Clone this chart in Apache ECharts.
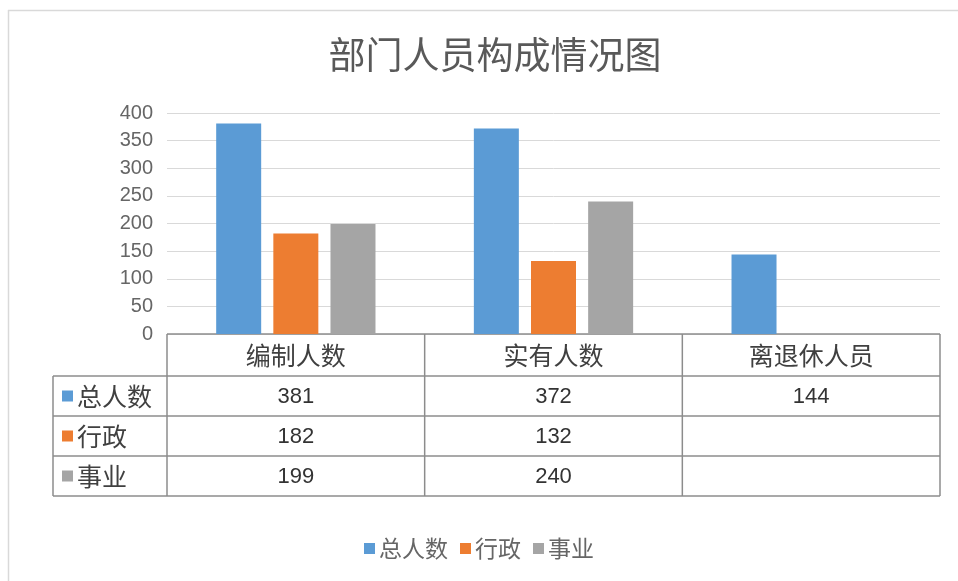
<!DOCTYPE html>
<html>
<head>
<meta charset="utf-8">
<script src="https://cdn.jsdelivr.net/npm/echarts@6/dist/echarts.min.js"></script>
<style>
html,body{margin:0;padding:0;background:#fff;}
#c{width:958px;height:581px;}
</style>
</head>
<body>
<div id="c"></div>
<script>
const titleText = '部门人员构成情况图';
const categories = ['编制人数', '实有人数', '离退休人员'];
const seriesNames = ['总人数', '行政', '事业'];
const totalValues = [381, 372, 144];
const adminValues = [182, 132, null];
const instValues = [199, 240, null];
const yTicks = [0, 50, 100, 150, 200, 250, 300, 350, 400];
const colors = ['#5B9BD5', '#ED7D31', '#A5A5A5'];

const seriesValues = [totalValues, adminValues, instValues];
const FONT = '"Noto Sans CJK SC", "Noto Sans", sans-serif';
const NUM_FONT = '"Liberation Sans", "Noto Sans", sans-serif';
const TEXT_COLOR = '#595959';

const chart = echarts.init(document.getElementById('c'), null, {renderer: 'canvas'});

const option = {
  backgroundColor: '#fff',
  animation: false,
  title: {
    text: titleText,
    left: 490,
    textAlign: 'center',
    top: 31,
    textStyle: {fontFamily: FONT, fontSize: 37, fontWeight: 'normal', color: TEXT_COLOR}
  },
  legend: {
    data: seriesNames,
    left: 'center',
    top: 532,
    itemWidth: 11,
    itemHeight: 11,
    itemGap: 12,
    icon: 'rect',
    textStyle: {fontFamily: FONT, fontSize: 23, color: '#666666', padding: [0, 0, 0, -1]}
  },
  grid: {left: 167, right: 18, top: 113, bottom: 247, containLabel: false},
  xAxis: {
    type: 'category',
    data: categories,
    axisLine: {show: false},
    axisTick: {show: false},
    axisLabel: {show: false},
    splitLine: {show: false}
  },
  yAxis: {
    type: 'value',
    min: yTicks[0],
    max: yTicks[yTicks.length - 1],
    interval: yTicks[1] - yTicks[0],
    axisLine: {show: false},
    axisTick: {show: false},
    axisLabel: {fontFamily: NUM_FONT, fontSize: 20, color: '#666666', margin: 14},
    splitLine: {lineStyle: {color: '#D9D9D9', width: 1}}
  },
  series: seriesNames.map((name, i) => ({
    name: name,
    type: 'bar',
    data: seriesValues[i],
    barWidth: 45,
    barGap: '27%',
    itemStyle: {color: colors[i]}
  }))
};
chart.setOption(option);

function buildTable() {
  const c0 = chart.convertToPixel({xAxisIndex: 0}, categories[0]);
  const c1 = chart.convertToPixel({xAxisIndex: 0}, categories[1]);
  const band = c1 - c0;
  const gridLeft = c0 - band / 2;
  const gridRight = gridLeft + band * categories.length;
  const yTop = chart.convertToPixel({yAxisIndex: 0}, 0);
  const headerH = 42;
  const rowH = 40;
  const tableLeft = 53;
  const rowsTop = yTop + headerH;
  const tableBottom = rowsTop + rowH * seriesNames.length;
  const lineStyle = {stroke: '#8C8C8C', lineWidth: 1.5};
  const els = [];
  els.push({type: 'line', shape: {x1: 8, y1: 10.5, x2: 958, y2: 10.5}, style: {stroke: '#D9D9D9', lineWidth: 1.5}, silent: true});
  els.push({type: 'line', shape: {x1: 8.5, y1: 10, x2: 8.5, y2: 581}, style: {stroke: '#D9D9D9', lineWidth: 1.5}, silent: true});
  els.push({type: 'line', shape: {x1: gridLeft, y1: yTop, x2: gridRight, y2: yTop}, style: lineStyle});
  for (let r = 0; r <= seriesNames.length; r++) {
    const y = rowsTop + r * rowH;
    els.push({type: 'line', shape: {x1: tableLeft, y1: y, x2: gridRight, y2: y}, style: lineStyle});
  }
  for (let k = 0; k <= categories.length; k++) {
    const x = gridLeft + k * band;
    els.push({type: 'line', shape: {x1: x, y1: yTop, x2: x, y2: tableBottom}, style: lineStyle});
  }
  els.push({type: 'line', shape: {x1: tableLeft, y1: rowsTop, x2: tableLeft, y2: tableBottom}, style: lineStyle});
  categories.forEach((cat, k) => {
    els.push({type: 'text', x: gridLeft + (k + 0.5) * band, y: yTop + headerH / 2,
      style: {text: cat, fontFamily: FONT, fontSize: 25, fill: '#404040', align: 'center', verticalAlign: 'middle'}});
  });
  seriesNames.forEach((name, r) => {
    const cy = rowsTop + (r + 0.5) * rowH;
    els.push({type: 'rect', shape: {x: 62, y: cy - 5.5, width: 11, height: 11}, style: {fill: colors[r]}});
    els.push({type: 'text', x: 77, y: cy,
      style: {text: name, fontFamily: FONT, fontSize: 25, fill: '#404040', align: 'left', verticalAlign: 'middle'}});
    seriesValues[r].forEach((v, k) => {
      if (v === null || v === undefined) return;
      els.push({type: 'text', x: gridLeft + (k + 0.5) * band, y: cy + 1,
        style: {text: String(v), fontFamily: NUM_FONT, fontSize: 22, fill: '#333333', align: 'center', verticalAlign: 'middle'}});
    });
  });
  chart.setOption({graphic: {elements: els}});
}
buildTable();
</script>
</body>
</html>
